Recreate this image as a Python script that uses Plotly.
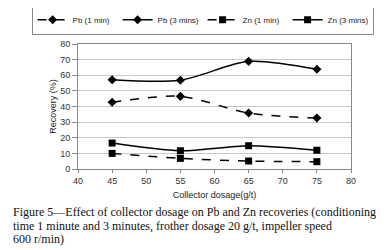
import plotly.graph_objects as go

dosage = [45, 55, 65, 75]
pb_1min = [42.7, 46.5, 35.8, 32.6]
pb_3min = [57.1, 56.8, 68.9, 63.8]
zn_1min = [10.0, 6.8, 5.1, 4.7]
zn_3min = [16.6, 11.7, 14.9, 12.0]

series = [
    ("Pb (1 min)", pb_1min, "dash", "diamond", 7),
    ("Pb (3 mins)", pb_3min, "solid", "diamond", 7),
    ("Zn (1 min)", zn_1min, "dash", "square", 7),
    ("Zn (3 mins)", zn_3min, "solid", "square", 7),
]

caption_lines = [
    "Figure 5—Effect of collector dosage on Pb and Zn recoveries (conditioning",
    "time 1 minute and 3 minutes, frother dosage 20 g/t, impeller speed",
    "600 r/min)",
]

fig = go.Figure()
for name, vals, dash, sym, sz in series:
    fig.add_trace(go.Scatter(
        x=dosage, y=vals, name=name, mode="lines+markers",
        line=dict(color="black", width=1.5, dash=dash, shape="spline", smoothing=0.8),
        marker=dict(symbol=sym, size=sz, color="black"),
    ))

fig.update_layout(
    width=392, height=250,
    margin=dict(l=70, r=49, t=36, b=89, autoexpand=False),
    paper_bgcolor="white", plot_bgcolor="white",
    font=dict(family="Liberation Sans, Arial", size=9, color="#333"),
    showlegend=True,
    legend=dict(orientation="h", xref="paper", yref="paper",
                x=-0.17, xanchor="left", y=1.07, yanchor="bottom",
                bordercolor="#888", borderwidth=1, font=dict(size=8, color="#222"),
                itemwidth=30, tracegroupgap=0, entrywidth=40, entrywidthmode="pixels"),
    xaxis=dict(range=[40, 80], dtick=5, showgrid=False, showline=True, linecolor="#888",
               mirror=True, ticks="outside", ticklen=3, tickcolor="#888",
               title=dict(text="Collector dosage(g/t)", font=dict(size=9, color="#222"), standoff=6),
               zeroline=False),
    yaxis=dict(range=[0, 80], dtick=10, showgrid=True, gridcolor="#c8c8c8", showline=True,
               linecolor="#888", mirror=True, ticks="outside", ticklen=5, tickcolor="#888",
               title=dict(text="Recovery (%)", font=dict(size=9, color="#222"), standoff=2),
               zeroline=False),
)

for i, line in enumerate(caption_lines):
    fig.add_annotation(
        xref="paper", yref="paper", x=-0.245, y=-0.345 - 0.108 * i,
        xanchor="left", yanchor="middle", align="left", showarrow=False,
        text=line,
        font=dict(family="Liberation Serif, serif", size=12, color="#111"),
    )

fig.write_html("out.html")
